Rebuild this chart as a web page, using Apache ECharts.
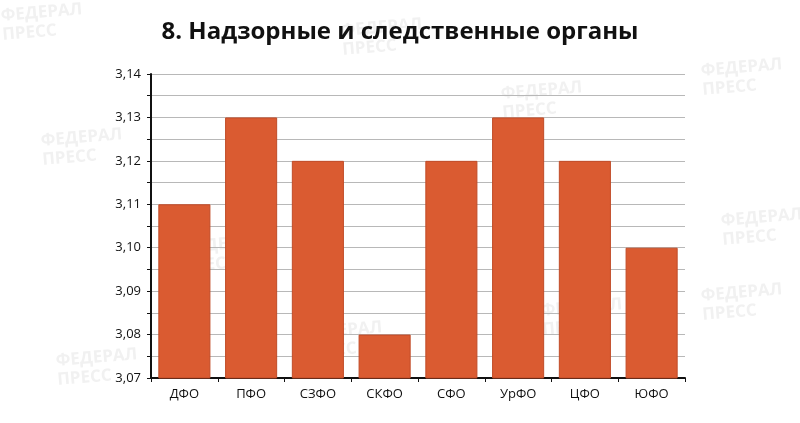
<!DOCTYPE html>
<html><head><meta charset="utf-8">
<script src="https://cdn.jsdelivr.net/npm/echarts@6/dist/echarts.min.js"></script>
<style>html,body{margin:0;padding:0;background:#fff}#c{width:800px;height:423px}</style>
</head><body><div id="c"></div>
<script>
const categories = ['ДФО','ПФО','СЗФО','СКФО','СФО','УрФО','ЦФО','ЮФО'];
const values = [3.11, 3.13, 3.12, 3.08, 3.12, 3.13, 3.12, 3.10];
const titleText = '8. Надзорные и следственные органы';

const wm = [[40,125],[500,78],[180,232],[300,318],[540,295],[720,205],[55,345],[700,280],[340,15],[0,0],[700,55]];
const graphics = [];
wm.forEach(p => {
  graphics.push({type:'text', left:p[0], top:p[1], rotation:0.08, z:-1,
    style:{text:'ФЕДЕРАЛ\nПРЕСС', fill:'#f1f1f1', font:'bold 17px "Open Sans"', lineHeight:19}});
});

const chart = echarts.init(document.getElementById('c'), null, {renderer:'canvas'});
chart.setOption({
  animation:false,
  backgroundColor:'#fff',
  title:{text:titleText, left:'center', top:15,
    textStyle:{fontFamily:'"Open Sans"', fontWeight:'bold', fontSize:24, color:'#111'}},
  graphic:graphics,
  grid:{left:151, right:115, top:74, bottom:45},
  xAxis:{type:'category', data:categories,
    axisLine:{lineStyle:{color:'#111', width:2}},
    axisTick:{show:true, alignWithLabel:false, length:4, lineStyle:{color:'#111'}},
    axisLabel:{color:'#111', fontFamily:'"Open Sans"', fontSize:13, margin:10}},
  yAxis:{type:'value', min:3.07, max:3.14, interval:0.005,
    axisLine:{show:true, lineStyle:{color:'#111', width:2}},
    axisTick:{show:true, length:4, lineStyle:{color:'#111'}},
    splitLine:{lineStyle:{color:'#b8b8b8', width:1}},
    axisLabel:{color:'#111', fontFamily:'"Open Sans"', fontSize:13, margin:10,
      formatter:v => { const k = Math.round(v*1000); return k % 10 === 0 ? (k/1000).toFixed(2).replace('.',',') : ''; }}},
  series:[{type:'bar', data:values, barWidth:'78%',
    itemStyle:{color:'#DA5B31', borderColor:'#C14B27', borderWidth:1}}]
});
</script></body></html>
